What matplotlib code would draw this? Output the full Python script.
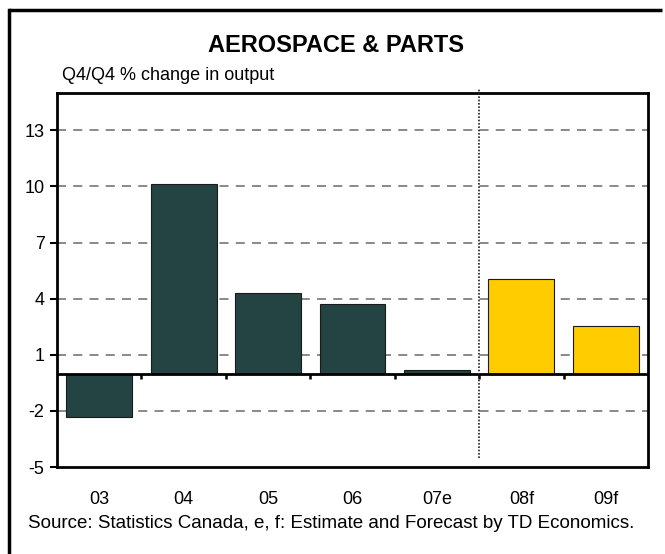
import matplotlib
matplotlib.use("Agg")
import matplotlib.pyplot as plt
from matplotlib.lines import Line2D

plt.rcParams['font.family'] = ['Liberation Sans', 'DejaVu Sans']

categories = ["03", "04", "05", "06", "07e", "08f", "09f"]
values = [-2.35, 10.15, 4.28, 3.73, 0.21, 5.03, 2.52]
forecast = [False, False, False, False, False, True, True]
yticks = [-5, -2, 1, 4, 7, 10, 13]

dark = "#234443"
yellow = "#FFCC00"

fig = plt.figure(figsize=(6.65, 5.54), dpi=100)
ax = fig.add_axes([57/665, 1-467/554, (648-57)/665, (467-93)/554])

x = list(range(len(categories)))
colors = [yellow if f else dark for f in forecast]
ax.bar(x, values, width=0.78, color=colors, edgecolor="#1a1a1a", linewidth=0.8, zorder=3)

ax.set_xlim(-0.5, len(categories) - 0.5)
ax.set_ylim(-5, 15)
ax.set_yticks(yticks)
ax.set_yticklabels([str(t) for t in yticks], fontsize=13)
for t in yticks:
    if t != -5:
        ax.axhline(t, color="#808080", linestyle=(0, (5, 4)), linewidth=1.3, zorder=1)
ax.axhline(0, color="black", linewidth=2, zorder=4)
# ticks at category boundaries on zero line
for i in range(1, len(categories)):
    ax.plot([i - 0.5, i - 0.5], [0, -0.27], color="black", linewidth=1.8, zorder=4,
            solid_capstyle="butt")
# vertical dotted separator between estimate and forecast
ax.plot([4.5, 4.5], [-4.5, 15.2], color="#222222", linestyle=(0, (1, 1)), linewidth=1.2,
        zorder=5, clip_on=False)

ax.set_xticks(x)
ax.set_xticklabels(categories, fontsize=13)
ax.tick_params(axis="x", length=0, pad=17)
ax.tick_params(axis="y", length=5, width=1.5, direction="out", pad=4)
for s in ax.spines.values():
    s.set_linewidth(2)
    s.set_color("black")

fig.text(336/665, 1-46/554, "AEROSPACE & PARTS", fontsize=17, fontweight="bold",
         ha="center", va="center")
fig.text(62/665, 1-75/554, "Q4/Q4 % change in output", fontsize=13, ha="left", va="center")
fig.text(28/665, 1-523/554, "Source: Statistics Canada, e, f: Estimate and Forecast by TD Economics.",
         fontsize=13.5, ha="left", va="center")

# outer frame (only left/top edges visible)
fig.lines.append(Line2D([9/665, 9/665], [0, 1-10/554], transform=fig.transFigure,
                        color="black", linewidth=2.5, solid_capstyle="projecting"))
fig.lines.append(Line2D([9/665, 662/665], [1-10/554, 1-10/554], transform=fig.transFigure,
                        color="black", linewidth=2.5, solid_capstyle="butt"))

fig.savefig("out.png", dpi=100)
